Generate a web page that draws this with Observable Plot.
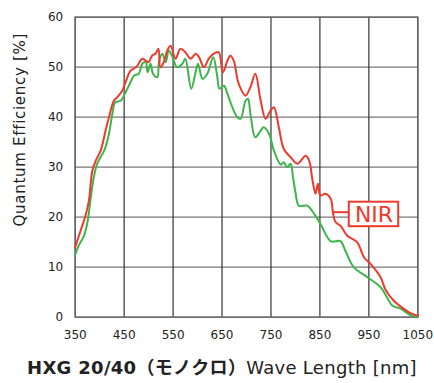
<!DOCTYPE html>
<html><head><meta charset="utf-8">
<script src="https://cdn.jsdelivr.net/npm/d3@7"></script>
<script src="https://cdn.jsdelivr.net/npm/@observablehq/plot@0.6"></script>
<style>
body{margin:0;background:#fff;font-family:"DejaVu Sans","Noto Sans CJK JP",sans-serif;}
#t{width:434px;text-align:center;font-size:18px;color:#222;margin-top:8px;padding-left:10px;box-sizing:border-box;letter-spacing:0.3px;white-space:nowrap}
#t b{font-weight:bold}
.ylab text{letter-spacing:0.7px}
</style></head><body>
<div id="c"></div>
<div id="t"><b>HXG 20/40（モノクロ）</b>Wave Length [nm]</div>
<script>
const xTicks = [350,450,550,650,750,850,950,1050];
const yTicks = [0,10,20,30,40,50,60];
const yTitle = ["Quantum Efficiency [%]"];
const nirWave = [350,361,371,378,385,392,402,412,419,429,436,446,453,463,470,477,487,494,500,507,514,520,524,531,538,545,555,565,575,586,596,603,613,623,633,643,652,661,667,674,684,698,708,718,729,739,749,756,766,776,790,804,821,828,835,841,846,851,861,872,877,882,892,906,926,940,953,974,984,1001,1021,1035,1050];
const nirQE   = [14,17.3,20.3,23.3,29.3,31.3,33.3,37.3,40,43.3,44,45.3,47,49.3,49.7,50.3,51.7,51.3,51,52.3,52.7,53.7,50,51,53.3,54.3,51.7,53.7,53,51.7,52.7,52,50,51.7,52.7,53,49,51.3,52.3,51.3,46.7,44.3,46,48.7,43.3,39.7,41.3,42,38,33.7,32,30.7,32.3,31.3,27.3,24.7,26.7,24.3,24.7,23.7,20.7,19,18.3,16.3,15,12,10.7,8,5.5,3.3,1.7,0.8,0.3];
const monoWave = [350,357,368,375,381,388,395,410,419,426,432,443,453,463,470,480,487,494,498,504,509,518,521,528,535,541,548,558,569,575,587,596,601,610,620,632,640,645,654,661,671,681,688,698,703,708,718,729,735,746,756,770,776,783,790,795,800,807,824,838,851,872,892,902,919,947,974,987,998,1015,1035,1050];
const monoQE   = [12.5,14.3,16.3,19,23.3,28,30.7,33.5,36.7,40.7,43,43.3,45,47,48.3,48.7,50.7,51,49,50.7,48.7,48,51,52.7,51,53.3,52.3,50,50.7,51.7,45.7,49,50.7,47.7,48.7,52,48.3,45.7,46.3,44.7,42,40,39.7,43.3,43.7,40.7,36,37.3,38,36.7,33.3,30.5,31,30,30.7,28,25,22.3,22.3,20.7,18.7,15.2,15.2,13.3,10,8,6,4,2.3,1.7,0.4,0];
const labelText = ["NIR"];
const labelBox = [{x1:910, x2:1011, y1:18.1, y2:23}];
const leader = [{x1:878, x2:910, y:21}];

const red = "#ee3a2c", green = "#3db54a";
const nir = nirWave.map((w,i)=>({w, q:nirQE[i]}));
const mono = monoWave.map((w,i)=>({w, q:monoQE[i]}));

const chart = Plot.plot({
  width:434, height:345,
  marginLeft:74.7, marginRight:16.7, marginTop:16.7, marginBottom:28.3,
  style:{fontFamily:"DejaVu Sans, sans-serif", fontSize:"12px", color:"#222", background:"#fff", overflow:"visible"},
  x:{domain:[350,1050]},
  y:{domain:[0,60]},
  marks:[
    Plot.ruleY(yTicks, {stroke:"#777", strokeWidth:1.3, strokeOpacity:1}),
    Plot.ruleX(xTicks, {stroke:"#333", strokeWidth:1.2, strokeOpacity:1}),
    Plot.frame({stroke:"#666", strokeWidth:1.3}),
    Plot.axisX(xTicks, {tickSize:0, tickPadding:13, label:null, fontSize:12, tickFormat:d=>String(d)}),
    Plot.axisY(yTicks, {tickSize:0, tickPadding:12, label:null, fontSize:12, tickFormat:d=>String(d)}),
    Plot.text(yTitle, {text:d=>d, frameAnchor:"left", textAnchor:"middle", rotate:-90, dx:-55.5, dy:-37.5, fontSize:15, fill:"#222", className:"ylab"}),
    Plot.line(mono, {x:"w", y:"q", stroke:green, strokeWidth:2, curve:"catmull-rom"}),
    Plot.line(nir, {x:"w", y:"q", stroke:red, strokeWidth:2, curve:"catmull-rom"}),
    Plot.ruleY(leader, {x1:"x1", x2:"x2", y:"y", stroke:red, strokeWidth:2}),
    Plot.rect(labelBox, {x1:"x1", x2:"x2", y1:"y1", y2:"y2", fill:"#fff", stroke:red, strokeWidth:2}),
    Plot.text(labelText, {x:d=>(labelBox[0].x1+labelBox[0].x2)/2, y:d=>(labelBox[0].y1+labelBox[0].y2)/2, text:d=>d, fill:red, fontSize:22, dy:1})
  ]
});
document.getElementById("c").appendChild(chart);
</script>
</body></html>
